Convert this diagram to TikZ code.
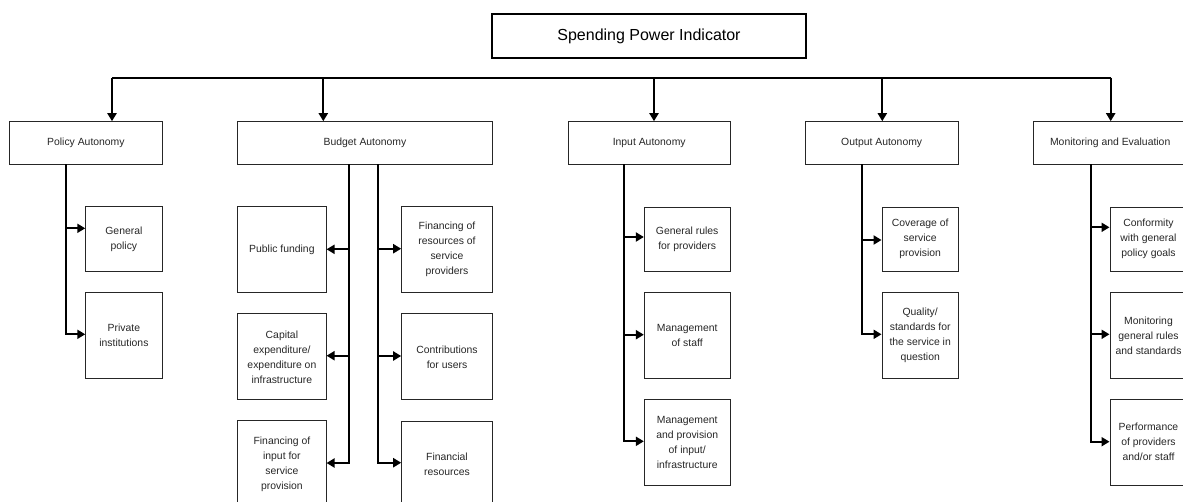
\documentclass[tikz,border=0pt]{standalone}
\usepackage{fontspec}
\setmainfont{Liberation Sans}
\usetikzlibrary{arrows.meta}
\begin{document}
\begin{tikzpicture}[x=1pt,y=-1pt,
  box/.style={draw=black!85, line width=1pt, inner sep=1pt, align=center,
    font=\fontsize{10.4}{15}\selectfont, text=black!85},
  top/.style={box, minimum height=42.6pt},
  small/.style={box, minimum height=64.3pt},
  large/.style={box, minimum height=86pt},
  conn/.style={line width=2pt, draw=black},
  arr/.style={conn, -{Triangle[length=8pt,width=9pt]}},
]
\useasboundingbox (0,0) rectangle (1183,501);
\clip (0,0) rectangle (1183,501);
% title
\node[box, line width=2pt, draw=black, text=black, font=\fontsize{16}{19}\selectfont,
  minimum width=314pt, minimum height=44pt] (spi) at (649,36) {Spending Power Indicator};
% level 1
\node[top, minimum width=152.3pt] (pa) at (85.9,143) {Policy Autonomy};
\node[top, minimum width=254.6pt] (ba) at (365,143) {Budget Autonomy};
\node[top, minimum width=161.7pt] (ia) at (649.2,143) {Input Autonomy};
\node[top, minimum width=153.3pt] (oa) at (881.7,143) {Output Autonomy};
\node[top, minimum width=153pt] (me) at (1110.2,143) {Monitoring and Evaluation};
% bus
\coordinate (b1) at (112,77.7);
\coordinate (b2) at (323.3,77.7);
\coordinate (b3) at (654,77.7);
\coordinate (b4) at (882.3,77.7);
\coordinate (b5) at (1110.7,77.7);
\draw[conn] (b1) -- (b5);
\draw[arr] (b1) -- (b1 |- pa.north);
\draw[arr] (b2) -- (b2 |- ba.north);
\draw[arr] (b3) -- (b3 |- ia.north);
\draw[arr] (b4) -- (b4 |- oa.north);
\draw[arr] (b5) -- (b5 |- me.north);
% policy children
\node[small, minimum width=76.3pt] (gp) at (123.9,239) {General\\policy};
\node[large, minimum width=76.3pt] (pi) at (123.9,335.3) {Private\\institutions};
% budget children
\node[large, minimum width=88.3pt] (pf) at (281.9,249.9) {Public funding};
\node[large, minimum width=88.3pt] (ce) at (281.9,356.9) {Capital\\expenditure/\\expenditure on\\infrastructure};
\node[large, minimum width=88.3pt] (fi) at (281.9,463.9) {Financing of\\input for\\service\\provision};
\node[large, minimum width=90.6pt] (fr) at (447,249.7) {Financing of\\resources of\\service\\providers};
\node[large, minimum width=90.6pt] (cu) at (447,356.9) {Contributions\\for users};
\node[large, minimum width=90.6pt] (fn) at (447,464) {Financial\\resources};
% input children
\node[small, minimum width=85.7pt] (gr) at (687.2,239.3) {General rules\\for providers};
\node[large, minimum width=85.7pt] (ms) at (687.2,335.2) {Management\\of staff};
\node[large, minimum width=85.7pt] (mp) at (687.2,442.5) {Management\\and provision\\of input/\\infrastructure};
% output children
\node[small, minimum width=76.3pt] (cv) at (920.2,239.2) {Coverage of\\service\\provision};
\node[large, minimum width=76.3pt] (qs) at (920.2,335.3) {Quality/\\standards for\\the service in\\question};
% monitoring children
\node[small, minimum width=77pt] (cf) at (1148.5,239.2) {Conformity\\with general\\policy goals};
\node[large, minimum width=77pt] (mg) at (1148.5,335.3) {Monitoring\\general rules\\and standards};
\node[large, minimum width=77pt] (pp) at (1148.5,442.2) {Performance\\of providers\\and/or staff};
% policy trunk
\coordinate (p0) at (65.7,164.3);
\coordinate (p1) at (65.7,228.3);
\coordinate (p2) at (65.7,334.3);
\draw[arr] (p0) -- (p2) -- (p2 -| pi.west);
\draw[arr] (p1) -- (p1 -| gp.west);
% budget left trunk
\coordinate (l0) at (348.7,164.3);
\coordinate (l1) at (348.7,249.3);
\coordinate (l2) at (348.7,355.7);
\coordinate (l3) at (348.7,463);
\draw[arr] (l0) -- (l3) -- (l3 -| fi.east);
\draw[arr] (l1) -- (l1 -| pf.east);
\draw[arr] (l2) -- (l2 -| ce.east);
% budget right trunk
\coordinate (r0) at (378.3,164.3);
\coordinate (r1) at (378.3,248.7);
\coordinate (r2) at (378.3,356);
\coordinate (r3) at (378.3,462.7);
\draw[arr] (r0) -- (r3) -- (r3 -| fn.west);
\draw[arr] (r1) -- (r1 -| fr.west);
\draw[arr] (r2) -- (r2 -| cu.west);
% input trunk
\coordinate (i0) at (624.3,164.3);
\coordinate (i1) at (624.3,237);
\coordinate (i2) at (624.3,334.7);
\coordinate (i3) at (624.3,441.3);
\draw[arr] (i0) -- (i3) -- (i3 -| mp.west);
\draw[arr] (i1) -- (i1 -| gr.west);
\draw[arr] (i2) -- (i2 -| ms.west);
% output trunk
\coordinate (o0) at (862.3,164.3);
\coordinate (o1) at (862.3,240);
\coordinate (o2) at (862.3,334.3);
\draw[arr] (o0) -- (o2) -- (o2 -| qs.west);
\draw[arr] (o1) -- (o1 -| cv.west);
% monitoring trunk
\coordinate (m0) at (1091,164.3);
\coordinate (m1) at (1091,227.3);
\coordinate (m2) at (1091,334.3);
\coordinate (m3) at (1091,441.7);
\draw[arr] (m0) -- (m3) -- (m3 -| pp.west);
\draw[arr] (m1) -- (m1 -| cf.west);
\draw[arr] (m2) -- (m2 -| mg.west);
\end{tikzpicture}
\end{document}
